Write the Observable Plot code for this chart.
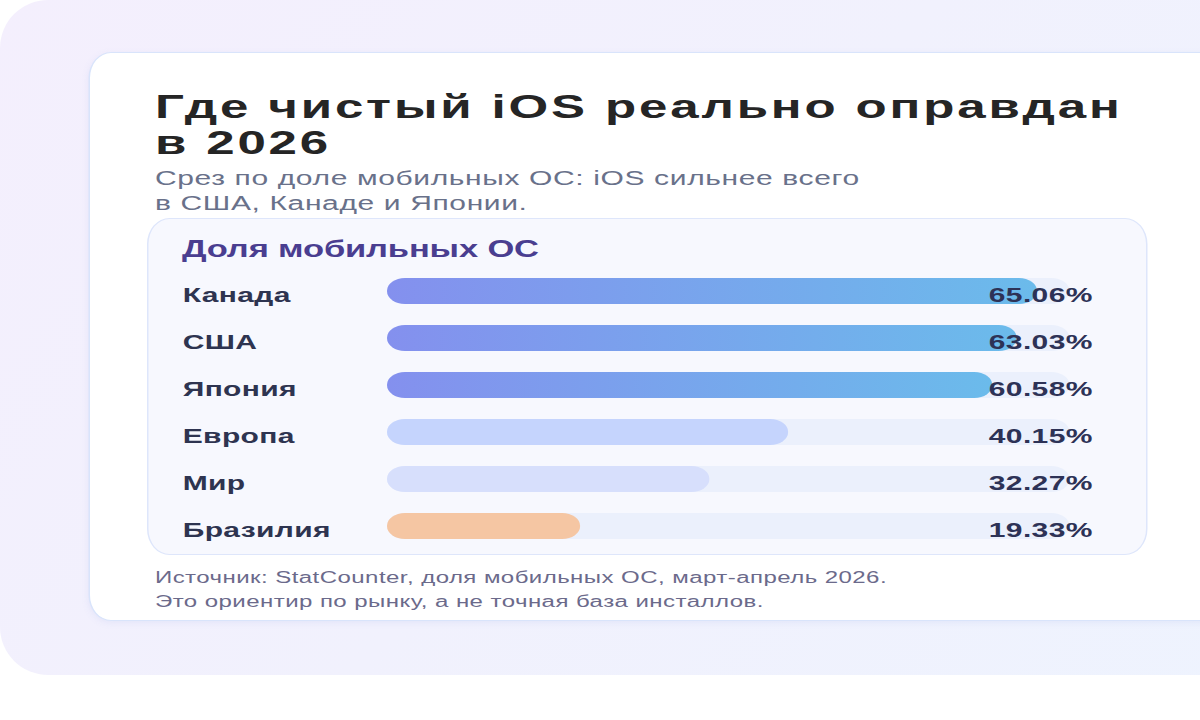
<!DOCTYPE html>
<html lang="ru">
<head>
<meta charset="utf-8">
<script src="https://cdn.jsdelivr.net/npm/d3@7"></script>
<script src="https://cdn.jsdelivr.net/npm/@observablehq/plot@0.6"></script>
<style>
  html, body { margin: 0; padding: 0; background: #ffffff; overflow: hidden; }
  body { width: 1200px; height: 720px; }
  #stage {
    position: absolute; left: 0; top: 0; width: 800px; height: 720px;
    transform: scaleX(1.5); transform-origin: 0 0; overflow: hidden;
    font-family: "Liberation Sans", Arial, Helvetica, sans-serif;
  }
  .abs { position: absolute; white-space: nowrap; }
  #outer {
    left: 0; top: 0; width: 860px; height: 675px;
    background: linear-gradient(120deg, #f4effd 0%, #f1f1fd 50%, #eef3fe 100%);
    border-radius: 32px 0 0 32px / 48px 0 0 48px;
  }
  #card {
    left: 58.7px; top: 52px; width: 800px; height: 569px; box-sizing: border-box;
    background: #ffffff; border: 1.5px solid #d9e4fb;
    border-radius: 15px 0 0 15px / 26px 0 0 26px;
    box-shadow: 0 2px 6px rgba(120, 140, 220, 0.10);
  }
  .tline {
    left: 103.3px; font-size: 34px; line-height: 36px; font-weight: 700;
    color: #252525; letter-spacing: 1.9px;
  }
  #title1 { top: 87.7px; }
  #title2 { top: 123.7px; }
  #subtitle {
    left: 103.3px; top: 165.6px; font-size: 20px; line-height: 25px;
    color: #69718a; letter-spacing: 0.42px;
  }
  #panel {
    left: 98px; top: 218px; width: 666.7px; height: 337px; box-sizing: border-box;
    background: #f7f8fe; border: 1.5px solid #dee6fb;
    border-radius: 15px / 26px;
  }
  #panelTitle {
    left: 121.3px; top: 234.7px; font-size: 23px; line-height: 28px; font-weight: 700;
    color: #4a3e90; letter-spacing: -0.1px;
  }
  #chart { left: 98px; top: 266.5px; }
  #chart text { letter-spacing: 0.25px; }
  #caption {
    left: 103.3px; top: 565.5px; font-size: 16px; line-height: 24px;
    color: #6b6a8b; letter-spacing: 0.3px;
  }
</style>
</head>
<body>
<div id="stage">
  <div id="outer" class="abs"></div>
  <div id="card" class="abs"></div>
  <div id="title1" class="abs tline">Где чистый iOS реально оправдан</div>
  <div id="title2" class="abs tline">в 2026</div>
  <div id="subtitle" class="abs">Срез по доле мобильных ОС: iOS сильнее всего<br>в США, Канаде и Японии.</div>
  <div id="panel" class="abs"></div>
  <div id="panelTitle" class="abs">Доля мобильных ОС</div>
  <div id="chart" class="abs"></div>
  <div id="caption" class="abs">Источник: StatCounter, доля мобильных ОС, март-апрель 2026.<br>Это ориентир по рынку, а не точная база инсталлов.</div>
</div>
<script>
// ---- data ----
const regions = ["Канада", "США", "Япония", "Европа", "Мир", "Бразилия"];
const shares = [65.06, 63.03, 60.58, 40.15, 32.27, 19.33];
const tiers = ["лидер iOS", "лидер iOS", "лидер iOS", "Европа", "Мир", "Android-рынок"];

// ---- styles ----
const tierDomain = ["лидер iOS", "Европа", "Мир", "Android-рынок"];
const tierRange = ["url(#iosGrad)", "#c5d4fd", "#d7dffc", "#f5c6a3"];
const trackColor = "#ebf0fc";
const labelColor = "#2e3450";
const valueColor = "#2d3256";

const rows = regions.map((name, i) => ({name, value: shares[i], tier: tiers[i]}));
const xMax = d3.max(shares) * 1.05;

const chart = Plot.plot({
  width: 667,
  height: 282,
  marginLeft: 160,
  marginRight: 52,
  marginTop: 0,
  marginBottom: 0,
  style: {background: "transparent", overflow: "visible", fontFamily: "'Liberation Sans', Arial, sans-serif"},
  x: {domain: [0, xMax], axis: null},
  y: {domain: regions, axis: null, paddingInner: 1 - 26 / 47, paddingOuter: (1 - 26 / 47) / 2, align: 0.5},
  color: {type: "ordinal", domain: tierDomain, range: tierRange},
  marks: [
    Plot.barX(rows, {x1: 0, x2: () => xMax, y: "name", fill: trackColor, rx: 12, ry: 13}),
    Plot.barX(rows, {x1: 0, x2: "value", y: "name", fill: "tier", rx: 12, ry: 13}),
    Plot.text(rows, {
      y: "name", text: "name", frameAnchor: "left", textAnchor: "start",
      dx: -136.7, dy: 4, fontSize: 20, fontWeight: 700, fill: labelColor
    }),
    Plot.text(rows, {
      y: "name", text: d => d.value.toFixed(2) + "%", frameAnchor: "right", textAnchor: "end",
      dx: 15, dy: 4, fontSize: 20, fontWeight: 700, fill: valueColor
    })
  ]
});

// gradient definition for the iOS-leading bars
const ns = "http://www.w3.org/2000/svg";
const defs = document.createElementNS(ns, "defs");
const grad = document.createElementNS(ns, "linearGradient");
grad.setAttribute("id", "iosGrad");
grad.setAttribute("x1", "0"); grad.setAttribute("x2", "1");
grad.setAttribute("y1", "0"); grad.setAttribute("y2", "0");
[["0", "#8490ee"], ["1", "#6bbbeb"]].forEach(([o, c]) => {
  const s = document.createElementNS(ns, "stop");
  s.setAttribute("offset", o); s.setAttribute("stop-color", c);
  grad.appendChild(s);
});
defs.appendChild(grad);
chart.insertBefore(defs, chart.firstChild);

document.getElementById("chart").appendChild(chart);
</script>
</body>
</html>
